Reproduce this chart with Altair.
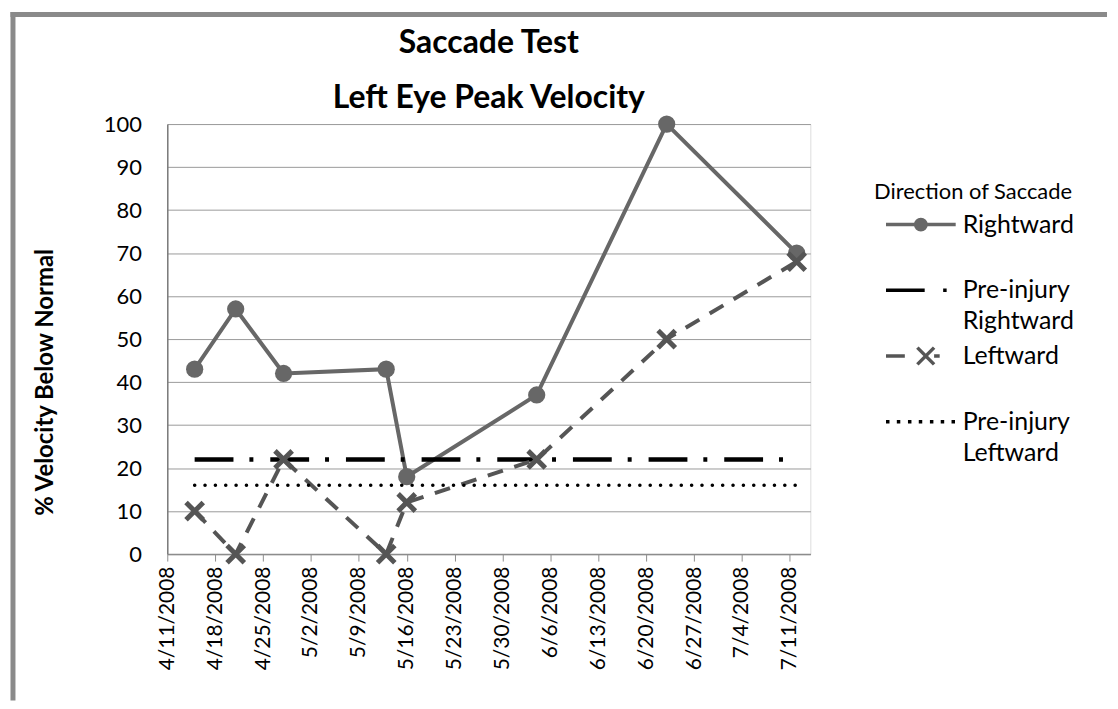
import altair as alt
import pandas as pd

# ---------------- data ----------------
dates = ["2008-04-15", "2008-04-21", "2008-04-28", "2008-05-13",
         "2008-05-16", "2008-06-04", "2008-06-23", "2008-07-12"]
rightward = [43, 57, 42, 43, 18, 37, 100, 70]
leftward = [10, 0, 22, 0, 12, 22, 50, 68]
pre_rightward = [22, 22, 22, 22, 22, 22, 22, 22]
pre_leftward = [16, 16, 16, 16, 16, 16, 16, 16]

series_names = ["Rightward", "Pre-injury Rightward", "Leftward", "Pre-injury Leftward"]
tick_months = [4, 4, 4, 5, 5, 5, 5, 5, 6, 6, 6, 6, 7, 7]
tick_days = [11, 18, 25, 2, 9, 16, 23, 30, 6, 13, 20, 27, 4, 11]
y_ticks = [0, 10, 20, 30, 40, 50, 60, 70, 80, 90, 100]

FONT = "Lato"
W, H = 646, 432
C_RIGHT = "#676767"
C_LEFT = "#555555"
C_PRE = "#000000"


def sdf(name, values):
    return pd.DataFrame({"date": dates, "value": values, "series": name})


df_r = sdf("Rightward", rightward)
df_pr = sdf("Pre-injury Rightward", pre_rightward)
df_l = sdf("Leftward", leftward)
df_pl = sdf("Pre-injury Leftward", pre_leftward)

x_enc = alt.X(
    "date:T",
    title=None,
    scale=alt.Scale(
        type="utc",
        domain=[alt.DateTime(year=2008, month=4, date=11, utc=True),
                alt.DateTime(year=2008, month=7, date=14, utc=True)],
    ),
    axis=alt.Axis(
        values=[alt.DateTime(year=2008, month=m, date=d, utc=True)
                for m, d in zip(tick_months, tick_days)],
        format="%-m/%-d/%Y",
        labelAngle=-90,
        labelFont=FONT, labelFontSize=21, labelColor="#000000",
        labelPadding=5, labelOverlap=False,
        tickSize=7, tickColor="#8c8c8c", tickWidth=1,
        domainColor="#8c8c8c", domainWidth=1.5,
        grid=False,
    ),
)
y_enc = alt.Y(
    "value:Q",
    title="% Velocity Below Normal",
    scale=alt.Scale(domain=[0, 100], nice=False),
    axis=alt.Axis(
        values=y_ticks,
        ticks=False,
        labelFont=FONT, labelFontSize=22, labelColor="#000000", labelPadding=26,
        grid=True, gridColor="#9a9a9a", gridWidth=1,
        domainColor="#7a7a7a", domainWidth=1.5,
        titleFont=FONT, titleFontSize=24, titleFontWeight="bold", titleColor="#000000",
        titleX=-110, titleY=259,
    ),
)

# ---------------- series ----------------
line_r = alt.Chart(df_r).mark_line(color=C_RIGHT, strokeWidth=4).encode(x=x_enc, y=y_enc)
pts_r = alt.Chart(df_r).mark_circle(color=C_RIGHT, size=300, opacity=1).encode(x=x_enc, y=y_enc)
line_pr = alt.Chart(df_pr).mark_line(color=C_PRE, strokeWidth=4.5,
                                     strokeDash=[39, 16, 4, 17]).encode(x=x_enc, y=y_enc)
line_l = alt.Chart(df_l).mark_line(color=C_LEFT, strokeWidth=4,
                                   strokeDash=[16, 12]).encode(x=x_enc, y=y_enc)
pts_l = alt.Chart(df_l).mark_point(shape="M-1,-1L1,1M-1,1L1,-1", filled=False, size=300,
                                   strokeWidth=5, color=C_LEFT, opacity=1).encode(x=x_enc, y=y_enc)
line_pl = alt.Chart(df_pl).mark_line(color=C_PRE, strokeWidth=3.5, strokeCap="round",
                                     strokeDash=[0.1, 10.3]).encode(x=x_enc, y=y_enc)

# ---------------- legend (symbols from a shape scale) ----------------
legend_paths = [
    "M-1,0H1M0.15,0A0.15,0.15,0,1,1,-0.15,0A0.15,0.15,0,1,1,0.15,0"
    "M0.09,0A0.09,0.09,0,1,1,-0.09,0A0.09,0.09,0,1,1,0.09,0"
    "M0.035,0A0.035,0.035,0,1,1,-0.035,0A0.035,0.035,0,1,1,0.035,0",
    "M-1,0H0.11M0.64,0H0.74",
    "M-1,0H-0.46M-0.1,-0.24L0.38,0.24M-0.1,0.24L0.38,-0.24M0.38,0H0.54",
    "M-1,0H-0.9M-0.69,0H-0.59M-0.37,0H-0.27M-0.06,0H0.04"
    "M0.26,0H0.36M0.57,0H0.67M0.88,0H0.98",
]
legend_colors = [C_RIGHT, C_PRE, C_LEFT, C_PRE]
df_leg = pd.DataFrame({"series": series_names, "date": ["2008-01-01"] * 4, "value": [50] * 4})

label_expr = ("datum.label == 'Pre-injury Rightward' ? ['Pre-injury', 'Rightward'] : "
              "datum.label == 'Pre-injury Leftward' ? ['Pre-injury', 'Leftward'] : "
              "[datum.label, '']")

leg = alt.Legend(
    title="Direction of Saccade", orient="none", legendX=710, legendY=58,
    titleFont=FONT, titleFontSize=22, titleFontWeight="normal", titleColor="#000000",
    titlePadding=6, titleLimit=400,
    labelFont=FONT, labelFontSize=25, labelColor="#000000", labelLimit=300,
    labelExpr=label_expr, labelOffset=5,
    symbolSize=4900, symbolStrokeWidth=3.5, symbolOffset=10,
    clipHeight=30, rowPadding=7, padding=0,
)

legend_layer = alt.Chart(df_leg).mark_point(filled=False, clip=True, opacity=1,
                                            strokeWidth=3.5, size=4900).encode(
    x=x_enc, y=y_enc,
    color=alt.Color("series:N", scale=alt.Scale(domain=series_names, range=legend_colors),
                    legend=leg),
    shape=alt.Shape("series:N", scale=alt.Scale(domain=series_names, range=legend_paths),
                    legend=leg),
)

# ---------------- outer frame (decoration) ----------------
frame_df = pd.DataFrame({"k": [0]})
frame_v = alt.Chart(frame_df).mark_rule(color="#8a8a8a", strokeWidth=5).encode(
    x=alt.value(-155), y=alt.value(-112.5), y2=alt.value(579))
frame_h = alt.Chart(frame_df).mark_rule(color="#8a8a8a", strokeWidth=5).encode(
    x=alt.value(-157.5), x2=alt.value(944), y=alt.value(-110))

chart = alt.layer(
    frame_v, frame_h, line_r, pts_r, line_pr, line_l, pts_l, line_pl, legend_layer
).properties(
    width=W, height=H,
    padding=0,
    title=alt.TitleParams(
        text=["Saccade Test", "Left Eye Peak Velocity"],
        font=FONT, fontSize=32, fontWeight="bold", color="#000000",
        anchor="middle", frame="group", lineHeight=55, offset=-106,
    ),
).configure_view(
    stroke="#3a3a3a", strokeWidth=1.5
).configure(
    background="white",
    style={"guide-label": {"lineHeight": 31}},
)

chart.save("out.html", embed_options={"renderer": "svg", "actions": False})
